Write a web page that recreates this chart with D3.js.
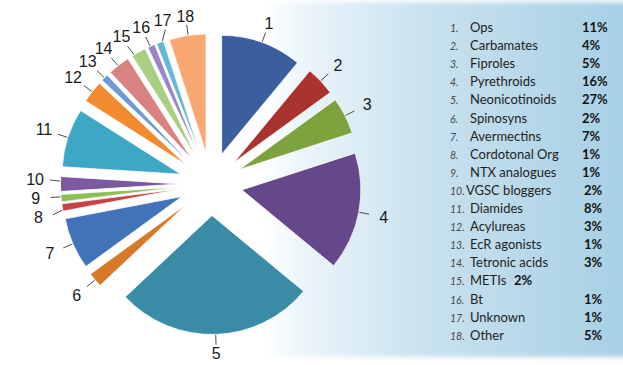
<!DOCTYPE html>
<html>
<head>
<meta charset="utf-8">
<script src="https://cdn.jsdelivr.net/npm/d3@7"></script>
<style>
  html, body { margin: 0; padding: 0; background: #fff; }
  svg { display: block; }
</style>
</head>
<body>
<svg id="chart" width="623" height="365"></svg>
<script>
// ---- data ----
const ids = [1,2,3,4,5,6,7,8,9,10,11,12,13,14,15,16,17,18];
const names = ["Ops","Carbamates","Fiproles","Pyrethroids","Neonicotinoids","Spinosyns","Avermectins",
  "Cordotonal Org","NTX analogues","VGSC bloggers","Diamides","Acylureas","EcR agonists",
  "Tetronic acids","METIs","Bt","Unknown","Other"];
const values = [11,4,5,16,27,2,7,1,1,2,8,3,1,3,2,1,1,5];
const colors = ["#3b5e9e","#a8332f","#7ea23e","#65488a","#3a8ba6","#d77a28","#4272b8","#c4444a",
  "#8cbf55","#7a59a0","#3fa7c6","#f28a30","#6f9ad6","#d88282","#a8cf82","#9a86c6","#62b8d8","#f9a874"];

const svg = d3.select("#chart");
const W = 623, H = 365;

// ---- background panel ----
const defs = svg.append("defs");
const grad = defs.append("linearGradient").attr("id","bg").attr("x1","0").attr("x2","1").attr("y1","0").attr("y2","0");
grad.append("stop").attr("offset","0").attr("stop-color","#ffffff").attr("stop-opacity",0);
grad.append("stop").attr("offset","0.12").attr("stop-color","#eef6fa");
grad.append("stop").attr("offset","0.45").attr("stop-color","#c9e2ef");
grad.append("stop").attr("offset","1").attr("stop-color","#a6cfe4");
const blur = defs.append("filter").attr("id","soft").attr("x","-5%").attr("y","-5%").attr("width","110%").attr("height","110%");
blur.append("feGaussianBlur").attr("stdDeviation",2.5);
svg.append("rect").attr("x",250).attr("y",2).attr("width",W-250+10).attr("height",355)
  .attr("fill","url(#bg)").attr("filter","url(#soft)");

// ---- pie ----
const cx = 211, cy = 184, R = 119, explode = 31.5;
const pie = d3.pie().sort(null).value(d => d)(values);
const arc = d3.arc().innerRadius(0).outerRadius(R);
const g = svg.append("g").attr("transform",`translate(${cx},${cy})`);
const mid = d => (d.startAngle + d.endAngle) / 2;

g.selectAll("path.slice").data(pie).join("path")
  .attr("class","slice")
  .attr("d", arc)
  .attr("fill", (d,i) => colors[i])
  .attr("stroke", "#ffffff").attr("stroke-width", 0.8)
  .attr("transform", d => `translate(${explode*Math.sin(mid(d))},${-explode*Math.cos(mid(d))})`);

// ---- label angles with simple relaxation ----
let la = pie.map(mid);
const minSep = a => (8.2 - 2.0*Math.abs(Math.sin(a))) * Math.PI/180;
for (let it = 0; it < 300; it++) {
  for (let i = 0; i < la.length - 1; i++) {
    const need = minSep((la[i]+la[i+1])/2);
    const diff = la[i+1] - la[i];
    if (diff < need) {
      const push = (need - diff) / 2;
      la[i] -= push; la[i+1] += push;
    }
  }
}

const lblG = g.append("g");
pie.forEach((d,i) => {
  const a = la[i];
  const m = mid(d);
  const ox = explode*Math.sin(m), oy = -explode*Math.cos(m);
  const ca = Math.max(d.startAngle + 0.01, Math.min(d.endAngle - 0.01, a));
  const x0 = ox + (R + 0.5)*Math.sin(ca), y0 = oy - (R + 0.5)*Math.cos(ca);
  const r1 = 161;
  const x1 = r1*Math.sin(a), y1 = -r1*Math.cos(a);
  lblG.append("line").attr("x1",x0).attr("y1",y0).attr("x2",x1).attr("y2",y1)
    .attr("stroke","#3a3a3a").attr("stroke-width",0.9);
  const txt = String(ids[i]);
  const rl = 169 + 7 * Math.abs(Math.sin(a));
  lblG.append("text")
    .attr("x", rl*Math.sin(a)).attr("y", -rl*Math.cos(a))
    .attr("text-anchor","middle").attr("dy","0.36em")
    .attr("font-family","'Liberation Sans', Arial, sans-serif")
    .attr("font-size",16).attr("fill","#1a1a1a")
    .text(txt);
});

// ---- legend ----
const leg = svg.append("g").attr("font-family","Lato, 'Noto Sans', sans-serif");
ids.forEach((id,i) => {
  const y = 32 + i*18.1;
  const row = leg.append("g");
  row.append("text").attr("x",450).attr("y",y).attr("font-size",10.5).attr("font-style","italic")
    .attr("fill","#4a4a4a").text(id + ".");
  const nx = id === 10 ? 466 : 470;
  row.append("text").attr("x",nx).attr("y",y).attr("font-size",13).attr("fill","#1e1e1e").text(names[i]);
  const px = id === 15 ? 514 : (id >= 10 ? 584 : 582);
  row.append("text").attr("x",px).attr("y",y).attr("font-size",13).attr("font-weight","bold")
    .attr("fill","#141414").text(values[i] + "%");
});
</script>
</body>
</html>
